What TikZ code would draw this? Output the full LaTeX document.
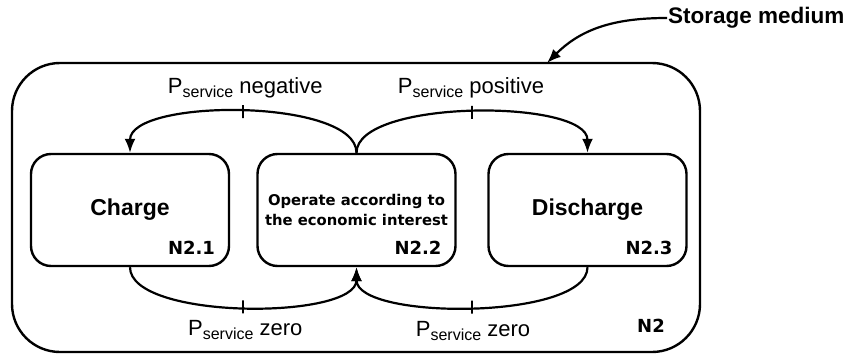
\documentclass[tikz,border=0pt]{standalone}
\usepackage{fontspec}
\setmainfont{Liberation Sans}
\newfontfamily\tagfont{DejaVu Sans}
\usetikzlibrary{positioning,arrows.meta,calc}

\newcommand{\psvc}{P\raisebox{-4pt}{\fontsize{16}{16}\selectfont service}}

\begin{document}
\begin{tikzpicture}[x=1pt, y=1pt, >={Latex[length=14pt,width=11pt]},
  every node/.style={align=center},
  state/.style={draw, line width=2.4pt, rounded corners=20pt,
                minimum width=198pt, minimum height=112pt, inner sep=0pt,
                font=\fontsize{23}{26}\selectfont\bfseries},
  tag/.style={anchor=base east, inner sep=0pt,
              font=\tagfont\fontsize{18}{20}\selectfont\bfseries},
  flow/.style={->, line width=2.2pt},
  tick/.style={draw, line width=2pt, minimum width=0pt,
               minimum height=13pt, inner sep=0pt},
  lbl/.style={anchor=base, inner sep=0pt, font=\fontsize{22}{26}\selectfont}]

  \useasboundingbox (0,0) rectangle (851,354);

  % storage medium block
  \node[draw, line width=2.4pt, rounded corners=48pt,
        minimum width=688pt, minimum height=289pt] (n2) at (356,146.5) {};
  \node[tag, anchor=base] (n2tag) at (651,22) {N2};

  \node[anchor=west, inner sep=1pt, font=\fontsize{22.5}{26}\selectfont\bfseries]
      (sm) at (667,336) {Storage medium};
  \coordinate (smtip) at (547,291);
  \draw[flow] (sm.west) to[out=180, in=45] (smtip);

  % the three modes
  \node[state] (charge) at (130,144) {Charge};
  \node[state, font=\tagfont\fontsize{14.8}{20}\selectfont\bfseries]
      (mid) at (356.5,144) {Operate according to\\the economic interest};
  \node[state] (discharge) at (587.5,144) {Discharge};

  \node[tag] (t21) at ($(charge.south east)+(-15,13)$) {N2.1};
  \node[tag] (t22) at ($(mid.south east)+(-15,13)$) {N2.2};
  \node[tag] (t23) at ($(discharge.south east)+(-15,13)$) {N2.3};

  % transitions
  \draw[flow] (mid.north) to[out=90, in=90, looseness=0.62]
      node[tick] (tneg) {} (charge.north);
  \draw[flow] (mid.north) to[out=90, in=90, looseness=0.6]
      node[tick] (tpos) {} (discharge.north);
  \draw[flow] (charge.south) to[out=-90, in=-90, looseness=0.6]
      node[tick] (tz1) {} (mid.south);
  \draw[flow] (discharge.south) to[out=-90, in=-90, looseness=0.59]
      node[tick] (tz2) {} (mid.south);

  \node[lbl] (lneg) at ($(tneg)+(2,18.5)$) {\psvc{} negative};
  \node[lbl] (lpos) at ($(tpos)+(-1,18.5)$) {\psvc{} positive};
  \node[lbl] (lz1) at ($(tz1)+(2,-29)$) {\psvc{} zero};
  \node[lbl] (lz2) at ($(tz2)+(1,-29)$) {\psvc{} zero};
\end{tikzpicture}
\end{document}
